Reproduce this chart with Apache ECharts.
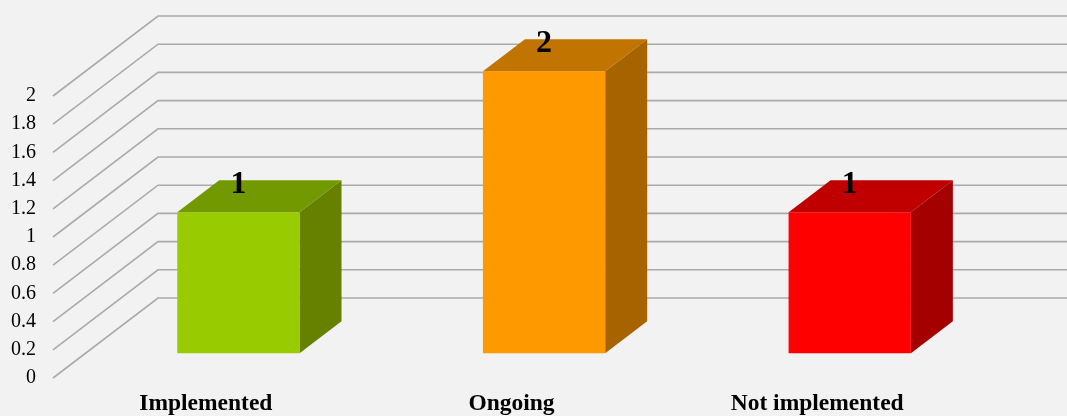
<!DOCTYPE html>
<html><head><meta charset="utf-8">
<script src="https://cdn.jsdelivr.net/npm/echarts@6/dist/echarts.min.js"></script>
<style>html,body{margin:0;padding:0;background:#f2f2f2}#c{width:1067px;height:416px}</style>
</head><body><div id="c"></div>
<script>
const categories = ['Implemented', 'Ongoing', 'Not implemented'];
const values = [1, 2, 1];
const yTicks = [0, 0.2, 0.4, 0.6, 0.8, 1, 1.2, 1.4, 1.6, 1.8, 2];
const frontColors = ['#99cc00', '#ff9900', '#ff0000'];
const topColors = ['#739900', '#c27400', '#c00000'];
const sideColors = ['#668000', '#a66300', '#a50000'];

// 3D projection (pixels): full depth of floor, bar front position and bar depth as fractions
const DX = 105, DY = -80;
const F0 = 0.31, FD = 0.4;
const serif = '"Liberation Serif", "Times New Roman", serif';

const chart = echarts.init(document.getElementById('c'), null, {renderer: 'canvas'});

const option = {
  backgroundColor: '#f2f2f2',
  animation: false,
  grid: {left: 53, right: 97, top: 96, bottom: 38},
  xAxis: {
    type: 'category', data: categories,
    axisLine: {show: false}, axisTick: {show: false}, splitLine: {show: false},
    axisLabel: {fontFamily: serif, fontWeight: 'bold', fontSize: 23.5, color: '#000', margin: 14}
  },
  yAxis: {
    type: 'value', min: 0, max: 2, interval: 0.2,
    axisLine: {show: false}, axisTick: {show: false}, splitLine: {show: false},
    axisLabel: {fontFamily: serif, fontSize: 20, color: '#000', margin: 17, padding: [4, 0, 0, 0]}
  },
  series: [
    {
      type: 'custom', z: 1, silent: true,
      data: yTicks.map(v => [0, v]),
      renderItem: function (params, api) {
        const cs = params.coordSys;
        const p = api.coord([0, api.value(1)]);
        const x0 = cs.x, y0 = p[1];
        return {
          type: 'polyline',
          shape: {points: [[x0, y0], [x0 + DX, y0 + DY], [api.getWidth() + 5, y0 + DY]]},
          style: {stroke: '#aaaaaa', lineWidth: 1.6, fill: null}
        };
      }
    },
    {
      type: 'custom', z: 5, silent: true,
      data: values.map((v, i) => [i, v]),
      renderItem: function (params, api) {
        const i = api.value(0), v = api.value(1);
        const base = api.coord([i, 0]);
        const top = api.coord([i, v]);
        const hw = api.size([1, 0])[0] * 0.2;
        const ox = DX * F0, oy = DY * F0, dx = DX * FD, dy = DY * FD;
        const x0 = base[0] - hw + ox, x1 = base[0] + hw + ox;
        const yb = base[1] + oy, yt = top[1] + oy;
        return {
          type: 'group',
          children: [
            {type: 'polygon', shape: {points: [[x1, yt], [x1 + dx, yt + dy], [x1 + dx, yb + dy], [x1, yb]]},
             style: {fill: sideColors[i]}},
            {type: 'polygon', shape: {points: [[x0, yt], [x1, yt], [x1 + dx, yt + dy], [x0 + dx, yt + dy]]},
             style: {fill: topColors[i]}},
            {type: 'rect', shape: {x: x0, y: yt, width: x1 - x0, height: yb - yt},
             style: {fill: frontColors[i]}},
            {type: 'text', x: (x0 + x1) / 2, y: yt + dy + 5,
             style: {text: String(values[i]), font: 'bold 32px ' + serif, fill: '#000',
                     align: 'center', verticalAlign: 'middle'}}
          ]
        };
      }
    }
  ]
};
chart.setOption(option);
</script>
</body></html>
